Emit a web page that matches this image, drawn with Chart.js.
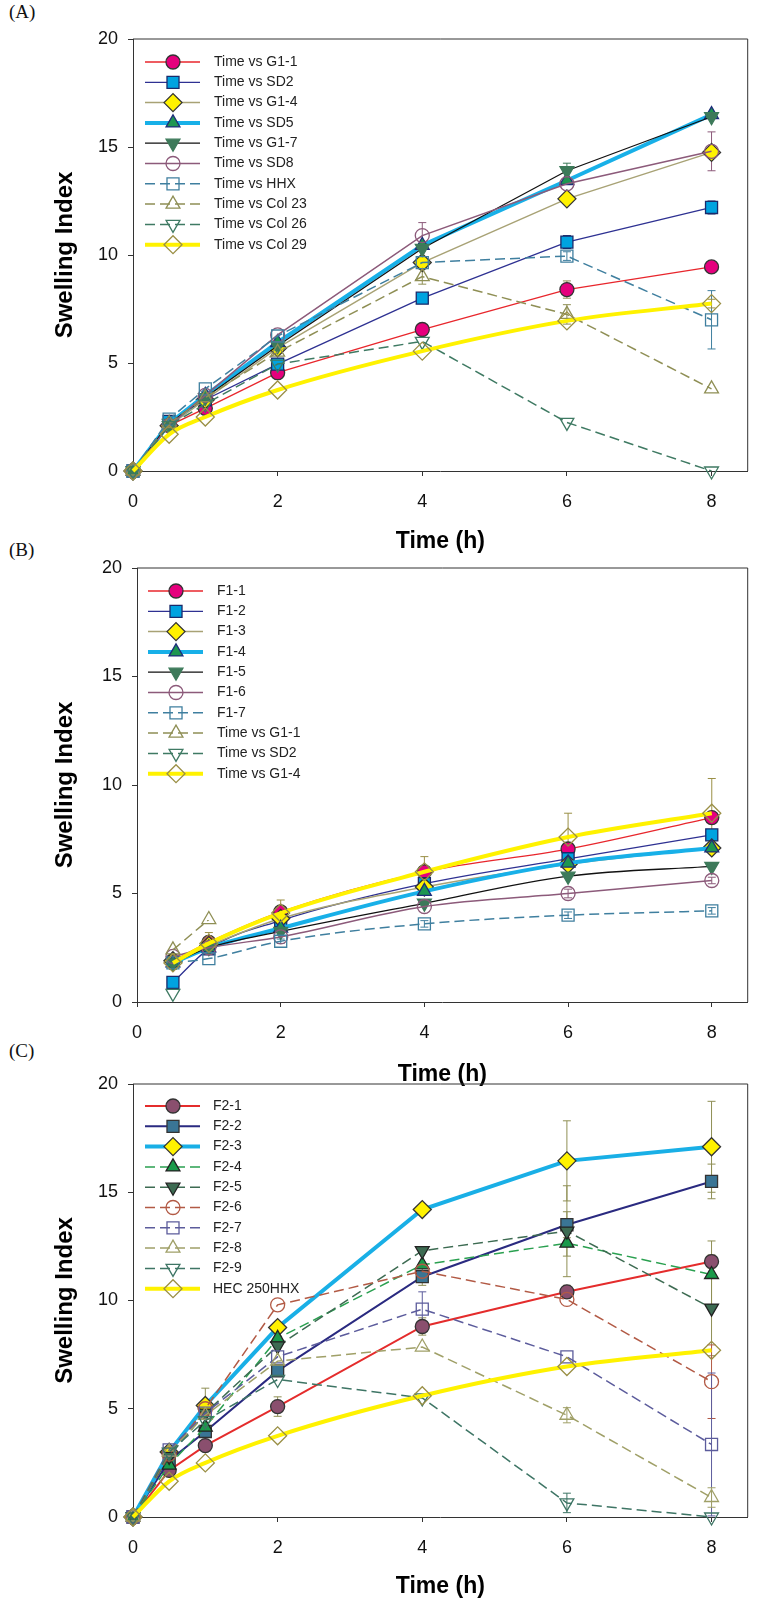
<!DOCTYPE html>
<html>
<head>
<meta charset="utf-8">
<script src="https://cdn.jsdelivr.net/npm/chart.js@4.4.0/dist/chart.umd.min.js"></script>
<style>
  body { margin: 0; background: #fff; width: 758px; height: 1600px; position: relative; overflow: hidden; }
  canvas { position: absolute; left: 0; }
  .tag { position: absolute; left: 9px; font: 19px "Liberation Serif", "Times New Roman", serif; color: #111; }
</style>
</head>
<body>
<div class="tag" style="top:1px">(A)</div>
<div class="tag" style="top:539px">(B)</div>
<div class="tag" style="top:1040px">(C)</div>
<canvas id="chartA" width="758" height="560" style="top:0px"></canvas>
<canvas id="chartB" width="758" height="570" style="top:530px"></canvas>
<canvas id="chartC" width="758" height="560" style="top:1040px"></canvas>
<script>
// ---- data: panel A ----
const hoursA = [0, 0.5, 1, 2, 4, 6, 8];
const namesA = ['Time vs G1-1', 'Time vs SD2', 'Time vs G1-4', 'Time vs SD5', 'Time vs G1-7',
                'Time vs SD8', 'Time vs HHX', 'Time vs Col 23', 'Time vs Col 26', 'Time vs Col 29'];
const aG1_1  = [0, 2.1, 2.9, 4.55, 6.55, 8.4, 9.45];
const aSD2   = [0, 2.3, 3.3, 4.95, 8.0, 10.6, 12.2];
const aG1_4  = [0, 2.1, 3.3, 5.7, 9.65, 12.6, 14.75];
const aSD5   = [0, 2.2, 3.5, 5.95, 10.45, 13.45, 16.5];
const aG1_7  = [0, 2.2, 3.4, 5.8, 10.3, 13.9, 16.4];
const aSD8   = [0, 2.1, 3.5, 6.3, 10.9, 13.3, 14.8];
const aHHX   = [0, 2.4, 3.8, 6.25, 9.65, 9.95, 7.0];
const aCol23 = [0, 2.2, 3.4, 5.5, 9.0, 7.25, 3.8];
const aCol26 = [0, 2.1, 3.1, 4.95, 6.0, 2.25, 0];
const aCol29 = [0, 1.7, 2.5, 3.75, 5.55, 6.95, 7.75];
const errA = [
  [0, 0, 0, 0, 0, 0.4, 0],
  [0, 0, 0, 0, 0, 0.3, 0.3],
  [0, 0, 0, 0, 0, 0, 0],
  [0, 0, 0, 0, 0, 0, 0],
  [0, 0, 0, 0, 0, 0.35, 0],
  [0, 0, 0, 0, 0.6, 0, 0.9],
  [0, 0, 0, 0, 0, 0.2, 1.35],
  [0, 0, 0, 0, 0.35, 0.45, 0],
  [0, 0, 0, 0, 0, 0, 0],
  [0, 0, 0, 0, 0, 0, 0.2]
];

// ---- data: panel B ----
const hoursB = [0.5, 1, 2, 4, 6, 8];
const namesB = ['F1-1', 'F1-2', 'F1-3', 'F1-4', 'F1-5', 'F1-6', 'F1-7',
                'Time vs G1-1', 'Time vs SD2', 'Time vs G1-4'];
const bF1_1 = [1.9, 2.75, 4.15, 6.0, 7.05, 8.5];
const bF1_2 = [0.9, 2.45, 3.75, 5.45, 6.6, 7.7];
const bF1_3 = [1.9, 2.6, 3.85, 5.3, 6.35, 7.1];
const bF1_4 = [1.8, 2.5, 3.4, 5.1, 6.4, 7.1];
const bF1_5 = [1.8, 2.5, 3.25, 4.55, 5.8, 6.25];
const bF1_6 = [2.1, 2.5, 3.0, 4.4, 5.0, 5.6];
const bF1_7 = [1.8, 2.0, 2.8, 3.6, 4.0, 4.2];
const bG1_1 = [2.4, 3.8, null, null, null, null];
const bSD2  = [0.4, null, null, null, null, null];
const bG1_4 = [1.8, 2.7, 4.1, 6.0, 7.6, 8.7];
const errB = [
  [0, 0, 0, 0, 0.3, 0],
  [0, 0, 0, 0, 0, 0],
  [0, 0, 0, 0, 0, 0],
  [0, 0, 0, 0, 0, 0],
  [0, 0, 0, 0, 0, 0],
  [0, 0, 0, 0, 0.2, 0.15],
  [0, 0, 0.1, 0.15, 0.15, 0.15],
  [0, 0, 0, 0, 0, 0],
  [0, 0, 0, 0, 0, 0],
  [0.3, 0.5, 0.6, 0.7, 1.1, 1.6]
];

// ---- data: panel C ----
const hoursC = [0, 0.5, 1, 2, 4, 6, 8];
const namesC = ['F2-1', 'F2-2', 'F2-3', 'F2-4', 'F2-5', 'F2-6', 'F2-7', 'F2-8', 'F2-9', 'HEC 250HHX'];
const cF2_1 = [0, 2.15, 3.3, 5.1, 8.8, 10.4, 11.8];
const cF2_2 = [0, 2.6, 3.95, 6.75, 11.1, 13.5, 15.5];
const cF2_3 = [0, 3.0, 5.15, 8.75, 14.2, 16.45, 17.1];
const cF2_4 = [0, 2.4, 4.15, 8.25, 11.65, 12.65, 11.2];
const cF2_5 = [0, 2.8, 4.8, 7.9, 12.3, 13.2, 9.65];
const cF2_6 = [0, 2.9, 5.0, 9.8, 11.35, 10.05, 6.25];
const cF2_7 = [0, 3.1, 4.8, 7.4, 9.6, 7.4, 3.35];
const cF2_8 = [0, 3.0, 4.7, 7.2, 7.85, 4.7, 0.9];
const cF2_9 = [0, 3.0, 4.45, 6.35, 5.5, 0.65, 0];
const cHEC  = [0, 1.65, 2.5, 3.75, 5.6, 6.95, 7.7];
const errC = [
  [0, 0, 0, 0.45, 0.4, 0.3, 0.3],
  [0, 0, 0, 0, 0.4, 0.6, 0.8],
  [0, 0, 0.8, 0, 0, 1.85, 2.1],
  [0, 0, 0, 0, 0, 0.6, 1.55],
  [0, 0, 0, 0, 0, 2.1, 2.2],
  [0, 0, 0, 0, 0, 0, 1.7],
  [0, 0, 0, 0, 0.8, 0, 3.3],
  [0, 0, 0, 0, 0, 0.35, 0.45],
  [0, 0, 0, 0, 0, 0.45, 0],
  [0, 0, 0, 0, 0, 0, 0]
];

// ---- styles ----
const NONE = 'rgba(0,0,0,0)';
const DASH = [10, 5];
const stylesA = [
  { line: '#e8262c', lw: 1.3, shape: 'circle', r: 7, fill: '#e5007d', edge: '#333' },
  { line: '#2e3192', lw: 1.3, shape: 'rect', r: 8.5, fill: '#00a3e0', edge: '#1a2a6a' },
  { line: '#a8a275', lw: 1.5, shape: 'rectRot', r: 9, fill: '#fff200', edge: '#333' },
  { line: '#18b0e8', lw: 4, shape: 'triangle', r: 8, fill: '#1e9650', edge: '#1d2d7a' },
  { line: '#111111', lw: 1.3, shape: 'triangle', rot: 180, r: 8, fill: '#3d7a5a', edge: '#3d7a5a' },
  { line: '#8c5a7a', lw: 1.5, shape: 'circle', r: 7, fill: NONE, edge: '#8c5a7a' },
  { line: '#3f7f9f', lw: 1.5, dash: DASH, shape: 'rect', r: 8.5, fill: NONE, edge: '#3f7f9f' },
  { line: '#8f8f55', lw: 1.5, dash: DASH, shape: 'triangle', r: 8, fill: NONE, edge: '#8f8f55' },
  { line: '#3f7a63', lw: 1.5, dash: DASH, shape: 'triangle', rot: 180, r: 8, fill: NONE, edge: '#3f7a63' },
  { line: '#fff200', lw: 4, smooth: true, shape: 'rectRot', r: 9, fill: NONE, edge: '#9a8f45' }
];
const stylesB = stylesA.map(s => Object.assign({}, s, { smooth: true }));
const stylesC = [
  { line: '#e42c2c', lw: 2, shape: 'circle', r: 7, fill: '#8a4f6e', edge: '#333' },
  { line: '#2a2a80', lw: 2, shape: 'rect', r: 8.5, fill: '#3a7595', edge: '#333' },
  { line: '#19afe6', lw: 4, shape: 'rectRot', r: 9, fill: '#fff200', edge: '#333' },
  { line: '#2aa050', lw: 1.5, dash: DASH, shape: 'triangle', r: 8, fill: '#1a9a4a', edge: '#222' },
  { line: '#3d6b52', lw: 1.5, dash: DASH, shape: 'triangle', rot: 180, r: 8, fill: '#3d6b52', edge: '#222' },
  { line: '#b25a45', lw: 1.5, dash: DASH, shape: 'circle', r: 7, fill: NONE, edge: '#b25a45' },
  { line: '#5c5c9c', lw: 1.5, dash: DASH, shape: 'rect', r: 8.5, fill: NONE, edge: '#5c5c9c' },
  { line: '#a0a068', lw: 1.5, dash: DASH, shape: 'triangle', r: 8, fill: NONE, edge: '#a0a068' },
  { line: '#3e7565', lw: 1.5, dash: DASH, shape: 'triangle', rot: 180, r: 8, fill: NONE, edge: '#3e7565' },
  { line: '#fff200', lw: 4, smooth: true, shape: 'rectRot', r: 9, fill: NONE, edge: '#9a8f45' }
];

Chart.defaults.font.family = '"Liberation Sans", Arial, sans-serif';
Chart.defaults.animation = false;

function makeSets(xs, series, names, errs, styles) {
  return series.map((ys, i) => {
    const st = styles[i];
    return {
      label: names[i],
      data: xs.map((x, j) => ({ x: x, y: ys[j] })),
      errs: errs[i],
      borderColor: st.line,
      borderWidth: st.lw,
      borderDash: st.dash || [],
      cubicInterpolationMode: st.smooth ? 'monotone' : 'default',
      pointStyle: st.shape,
      pointRotation: st.rot || 0,
      pointRadius: st.r,
      pointBackgroundColor: st.fill,
      pointBorderColor: st.edge,
      pointBorderWidth: 1.3,
      clip: false,
      order: -i
    };
  });
}

// legend drawn inside the plot: line + marker + text
const insideLegend = {
  id: 'insideLegend',
  afterDatasetsDraw(chart, args, o) {
    const ctx = chart.ctx;
    chart.data.datasets.forEach((d, i) => {
      const y = o.y0 + i * o.dy;
      ctx.save();
      ctx.strokeStyle = d.borderColor;
      ctx.lineWidth = d.borderWidth;
      ctx.setLineDash(d.borderDash);
      ctx.beginPath();
      ctx.moveTo(o.x0, y);
      ctx.lineTo(o.x1, y);
      ctx.stroke();
      ctx.setLineDash([]);
      ctx.fillStyle = d.pointBackgroundColor;
      ctx.strokeStyle = d.pointBorderColor;
      ctx.lineWidth = d.pointBorderWidth;
      Chart.helpers.drawPoint(ctx, {
        pointStyle: d.pointStyle, rotation: d.pointRotation,
        radius: d.pointRadius, borderWidth: d.pointBorderWidth
      }, o.xm, y);
      ctx.fillStyle = '#222';
      ctx.font = '14px "Liberation Sans", Arial, sans-serif';
      ctx.textBaseline = 'middle';
      ctx.fillText(d.label, o.xt, y);
      ctx.restore();
    });
  }
};

// vertical error bars with caps
const errorBars = {
  id: 'errorBars',
  beforeDatasetsDraw(chart) {
    const ctx = chart.ctx, sx = chart.scales.x, sy = chart.scales.y;
    chart.data.datasets.forEach(d => {
      d.data.forEach((p, j) => {
        const e = d.errs[j];
        if (!e || p.y === null) return;
        const px = sx.getPixelForValue(p.x);
        const t = sy.getPixelForValue(p.y + e), b = sy.getPixelForValue(p.y - e);
        ctx.save();
        ctx.strokeStyle = d.pointBorderColor === NONE ? d.borderColor : d.pointBorderColor;
        if (d.pointBorderColor === '#333' || d.pointBorderColor === '#222') ctx.strokeStyle = '#8f8f55';
        ctx.lineWidth = 1;
        ctx.beginPath();
        ctx.moveTo(px, t); ctx.lineTo(px, b);
        ctx.moveTo(px - 4, t); ctx.lineTo(px + 4, t);
        ctx.moveTo(px - 4, b); ctx.lineTo(px + 4, b);
        ctx.stroke();
        ctx.restore();
      });
    });
  }
};

// top and right sides of the frame
const frame = {
  id: 'frame',
  afterDraw(chart) {
    const { ctx, chartArea: a } = chart;
    ctx.save();
    ctx.strokeStyle = '#333';
    ctx.lineWidth = 1;
    ctx.beginPath();
    ctx.moveTo(a.left, a.top);
    ctx.lineTo(a.right, a.top);
    ctx.lineTo(a.right, a.bottom);
    ctx.stroke();
    ctx.restore();
  }
};

function makeChart(id, datasets, lay, legend) {
  return new Chart(document.getElementById(id), {
    type: 'line',
    data: { datasets: datasets },
    plugins: [errorBars, insideLegend, frame],
    options: {
      responsive: false,
      events: [],
      layout: { padding: { top: lay.top, right: lay.right, left: 0, bottom: 0 } },
      plugins: { legend: { display: false }, tooltip: { enabled: false }, insideLegend: legend },
      scales: {
        x: {
          type: 'linear', min: 0, max: 8.5,
          afterFit: s => { s.height = lay.xh; },
          ticks: { stepSize: 2, includeBounds: false, maxRotation: 0, padding: 15, color: '#111', font: { size: 18 } },
          grid: { drawOnChartArea: false, tickLength: 5, color: '#333' },
          border: { color: '#333' },
          title: { display: true, text: 'Time (h)', color: '#000', font: { size: 23, weight: 'bold' },
                   padding: { top: 0, bottom: lay.tb } }
        },
        y: {
          min: 0, max: 20,
          afterFit: s => { s.width = lay.yw; },
          ticks: { stepSize: 5, padding: 10, color: '#111', font: { size: 18 } },
          grid: { drawOnChartArea: false, tickLength: 5, color: '#333' },
          border: { color: '#333' },
          title: { display: true, text: 'Swelling Index', color: '#000', font: { size: 24, weight: 'bold' },
                   padding: { top: 51, bottom: 0 } }
        }
      }
    }
  });
}

makeChart('chartA',
  makeSets(hoursA, [aG1_1, aSD2, aG1_4, aSD5, aG1_7, aSD8, aHHX, aCol23, aCol26, aCol29], namesA, errA, stylesA),
  { top: 39, right: 6, xh: 89, yw: 133, tb: 5 },
  { x0: 145, x1: 200, xm: 173, xt: 214, y0: 62, dy: 20.3 });

makeChart('chartB',
  makeSets(hoursB, [bF1_1, bF1_2, bF1_3, bF1_4, bF1_5, bF1_6, bF1_7, bG1_1, bSD2, bG1_4], namesB, errB, stylesB),
  { top: 38, right: 4, xh: 98, yw: 137, tb: 12 },
  { x0: 148, x1: 203, xm: 176, xt: 217, y0: 61, dy: 20.3 });

makeChart('chartC',
  makeSets(hoursC, [cF2_1, cF2_2, cF2_3, cF2_4, cF2_5, cF2_6, cF2_7, cF2_8, cF2_9, cHEC], namesC, errC, stylesC),
  { top: 44, right: 6, xh: 83, yw: 133, tb: 0 },
  { x0: 145, x1: 200, xm: 173, xt: 213, y0: 66, dy: 20.3 });
</script>
</body>
</html>
